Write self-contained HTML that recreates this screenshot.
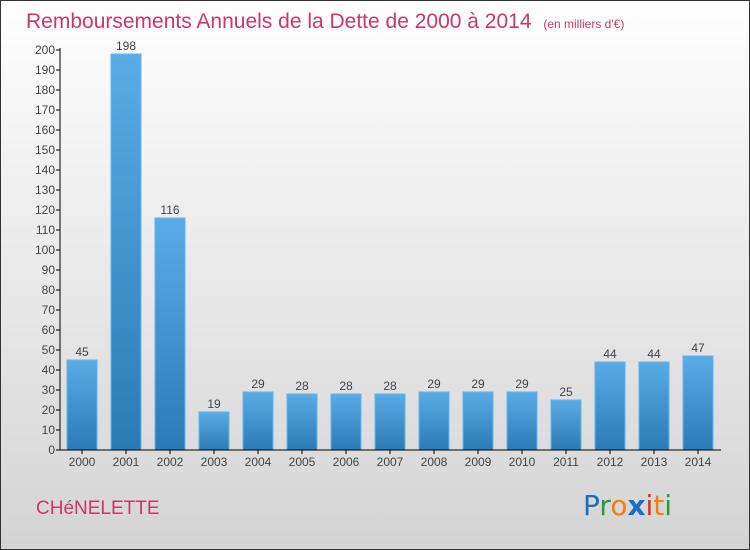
<!DOCTYPE html>
<html><head><meta charset="utf-8"><style>
body{margin:0}
#c{width:750px;height:550px;position:relative;box-sizing:border-box;border:1px solid #333;background:linear-gradient(#fefefe,#d4d4d4);overflow:hidden;font-family:"Liberation Sans",sans-serif}
</style></head><body>
<div id="c">
<svg width="750" height="550" style="position:absolute;left:-1px;top:-1px">
<defs><linearGradient id="g" x1="0" y1="0" x2="0" y2="1"><stop offset="0" stop-color="#5aace6"/><stop offset="1" stop-color="#2a7ab6"/></linearGradient></defs>
<text x="26" y="28" font-size="21" fill="#c8386a" font-family="Liberation Sans, sans-serif">Remboursements Annuels de la Dette de 2000 à 2014 <tspan font-size="12" dx="6">(en milliers d'€)</tspan></text>
<g id="plot"></g>
<text x="36" y="514" font-size="19" fill="#c8386a" font-family="Liberation Sans, sans-serif">CHéNELETTE</text>
<g font-family="DejaVu Sans, sans-serif" font-size="28">
<text x="583" y="515"><tspan fill="#1a6fc0">P</tspan><tspan fill="#2a9a3a">r</tspan><tspan fill="#f08010">o</tspan><tspan fill="#1a6fc0" font-weight="bold">x</tspan><tspan fill="#e03010">i</tspan><tspan fill="#f08010">t</tspan><tspan fill="#2a9a3a">i</tspan></text></g>
</svg>
</div>
<script>
const years=["2000","2001","2002","2003","2004","2005","2006","2007","2008","2009","2010","2011","2012","2013","2014"];
const values=[45,198,116,19,29,28,28,28,29,29,29,25,44,44,47];
const yTicks=[0,10,20,30,40,50,60,70,80,90,100,110,120,130,140,150,160,170,180,190,200];
const NS="http://www.w3.org/2000/svg";
const g=document.getElementById('plot');
const y=v=>450-v*2, x=i=>82+i*44;
function mk(t,a,txt){const e=document.createElementNS(NS,t);for(const k in a)e.setAttribute(k,a[k]);if(txt!==undefined)e.textContent=txt;g.appendChild(e);return e;}
yTicks.forEach(v=>{
 const l=mk('line',{x1:56,x2:60,y1:y(v),y2:y(v),stroke:'#000'});
 
 
 const t=mk('text',{x:55,y:y(v)+4,'font-size':12,'text-anchor':'end',fill:'#444','font-family':'Liberation Sans, sans-serif'},v);
 
 
});
values.forEach((v,i)=>{
 const r=mk('rect',{x:x(i)-15,y:y(v),width:30,height:v*2,fill:'url(#g)',stroke:'#62b4ee','stroke-width':1});
 
 
 const t=mk('text',{x:x(i),y:y(v)-4,'font-size':12,'text-anchor':'middle',fill:'#444','font-family':'Liberation Sans, sans-serif'},v);
 
 
 const tk=mk('line',{x1:x(i),x2:x(i),y1:450,y2:454,stroke:'#000'});
 
 
 const xl=mk('text',{x:x(i),y:466,'font-size':12,'text-anchor':'middle',fill:'#444','font-family':'Liberation Sans, sans-serif'},years[i]);
 
 
});
const ya=mk('line',{x1:60,x2:60,y1:48,y2:450,stroke:'#000'});


const xa=mk('line',{x1:60,x2:721,y1:450,y2:450,stroke:'#000'});


</script>
</body></html>
